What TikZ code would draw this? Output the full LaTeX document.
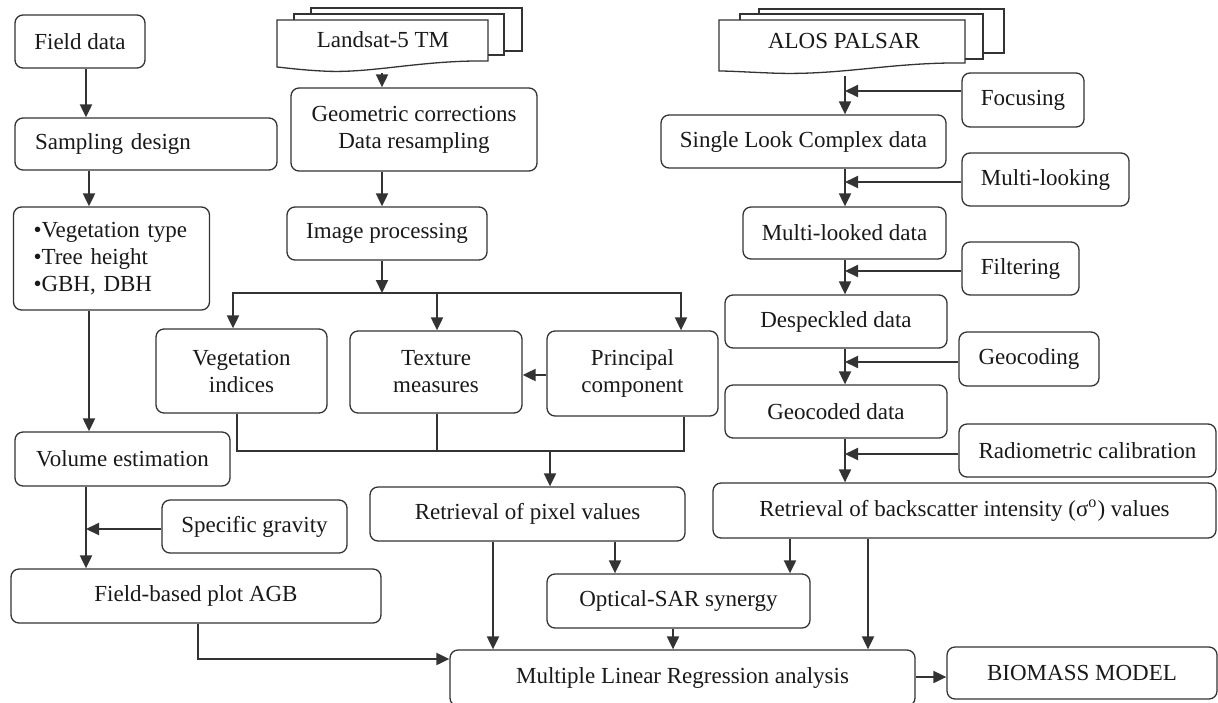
\documentclass[tikz,border=0pt]{standalone}
\usepackage{fontspec}
\setmainfont{Liberation Serif}
\usetikzlibrary{arrows.meta}
\begin{document}
\begin{tikzpicture}[x=0.5pt,y=-0.5pt,
    box/.style={draw=black!80,line width=0.65pt,rounded corners=4pt,inner sep=2pt,align=center,text=black!90,font=\fontsize{11.5}{13.5}\selectfont},
    arr/.style={draw=black!80,line width=1pt,-{Triangle[length=6.5pt,width=6pt]}},
    lin/.style={draw=black!80,line width=0.65pt}]
  \useasboundingbox (0,0) rectangle (1218,702);
  %campo
  \node[box,minimum width=65pt,minimum height=26.5pt] (field) at (80,41.5) {Field data};
  \node[box,minimum height=26pt,text width=111pt,inner xsep=10pt,align=left] (samp) at (146,144) {Sampling design};
  \node[box,minimum height=51.5pt,text width=78pt,inner xsep=10pt,align=left] (vegtype) at (111.5,258.5) {\textbullet Vegetation type\\\textbullet Tree height\\\textbullet GBH, DBH};
  \node[box,minimum width=107.5pt,minimum height=27pt] (volume) at (122.5,459) {Volume estimation};
  \node[box,minimum width=92.5pt,minimum height=26.5pt] (grav) at (254.5,526.5) {Specific gravity};
  \node[box,minimum width=185pt,minimum height=27pt] (agb) at (196,596) {Field-based plot AGB};
  %landsat
  \draw[lin] (311,14) -- (311,8) -- (522,8) -- (522,51) -- (504,51);
  \draw[lin] (294,20) -- (294,14) -- (504,14) -- (504,55) -- (488,55);
  \draw[lin] (277,20) -- (488,20) -- (488,61) .. controls (420,60) and (370,74) .. (322,71) .. controls (302,70) and (287,68) .. (277,67) -- cycle;
  \node[text=black!90,font=\fontsize{11.5}{13.5}\selectfont] (landsat) at (383,40) {Landsat-5 TM};
  \coordinate (landsatbot) at (382,73);
  \node[box,minimum width=123pt,minimum height=41.5pt] (geo) at (414,129.5) {Geometric corrections\\Data resampling};
  \node[box,minimum width=100pt,minimum height=26.5pt] (imgproc) at (387,233.5) {Image processing};
  \node[box,minimum width=85.5pt,minimum height=42pt] (vegind) at (241.5,371) {Vegetation\\indices};
  \node[box,minimum width=86pt,minimum height=41pt] (texture) at (436,372) {Texture\\measures};
  \node[box,minimum width=85.5pt,minimum height=42.5pt] (pca) at (632.5,373.5) {Principal\\component};
  \node[box,minimum width=157.5pt,minimum height=27pt] (pixel) at (527.5,514) {Retrieval of pixel values};
  %alos
  \draw[lin] (759,14) -- (759,9) -- (1004,9) -- (1004,53) -- (983,53);
  \draw[lin] (740,20) -- (740,14) -- (983,14) -- (983,59) -- (965,59);
  \draw[lin] (719,20) -- (965,20) -- (965,63) .. controls (890,62) and (840,76) .. (770,73) .. controls (745,72) and (730,71) .. (719,71) -- cycle;
  \node[text=black!90,font=\fontsize{11.5}{13.5}\selectfont] (alos) at (844,41) {ALOS PALSAR};
  \coordinate (alosbot) at (845,76);
  \node[box,minimum width=61pt,minimum height=27pt] (focus) at (1023,100) {Focusing};
  \node[box,minimum width=142.5pt,minimum height=26.5pt] (slc) at (803.5,141.5) {Single Look Complex data};
  \node[box,minimum width=83.5pt,minimum height=26.5pt] (mlook) at (1045.5,179.5) {Multi-looking};
  \node[box,minimum width=101.5pt,minimum height=26pt] (mlooked) at (844.5,233) {Multi-looked data};
  \node[box,minimum width=58.5pt,minimum height=26.5pt] (filter) at (1020.5,268.5) {Filtering};
  \node[box,minimum width=111pt,minimum height=26.5pt] (despeck) at (836,321.5) {Despeckled data};
  \node[box,minimum width=70pt,minimum height=27pt] (geocoding) at (1029,359) {Geocoding};
  \node[box,minimum width=111pt,minimum height=26.5pt] (geocoded) at (836,411.5) {Geocoded data};
  \node[box,minimum width=128.5pt,minimum height=26.5pt] (radio) at (1087.5,450.5) {Radiometric calibration};
  \node[box,minimum width=251.5pt,minimum height=27.5pt] (backsc) at (964.5,510.5) {Retrieval of backscatter intensity (σ\textsuperscript{o}) values};
  %modello
  \node[box,minimum width=131.5pt,minimum height=27pt] (optsar) at (678.5,601) {Optical-SAR synergy};
  \node[box,minimum width=232.5pt,minimum height=28pt] (mlr) at (682.5,678) {Multiple Linear Regression analysis};
  \node[box,minimum width=135pt,minimum height=26pt] (biomass) at (1082,673) {BIOMASS MODEL};
  %frecce campo
  \draw[arr] (field.south -| 86,0) -- (samp.north -| 86,0);
  \draw[arr] (samp.south -| 89,0) -- (vegtype.north -| 89,0);
  \draw[arr] (vegtype.south -| 89,0) -- (volume.north -| 89,0);
  \draw[arr] (volume.south -| 86,0) -- (agb.north -| 86,0);
  \coordinate (gravin) at (86,529);
  \draw[arr] (gravin -| grav.west) -- (gravin);
  \draw[arr] (agb.south -| 198,0) |- (mlr.west |- 0,659);
  %frecce landsat
  \coordinate (split) at (382,293);
  \draw[arr] (landsatbot) -- (landsatbot |- geo.north);
  \draw[arr] (geo.south -| landsatbot) -- (imgproc.north -| landsatbot);
  \draw[arr] (imgproc.south -| split) -- (split);
  \draw[arr] (split) -| (vegind.north -| 233,0);
  \draw[arr] (split) -| (pca.north -| 681,0);
  \draw[arr] (split -| 437,0) -- (texture.north -| 437,0);
  \draw[arr] (pca.west |- 0,375) -- (texture.east |- 0,375);
  \coordinate (merge) at (550,451);
  \draw[lin] (vegind.south -| 237,0) |- (merge) -| (pca.south -| 684,0);
  \draw[lin] (texture.south -| 437,0) -- (merge -| 437,0);
  \draw[arr] (merge) -- (merge |- pixel.north);
  \draw[arr] (pixel.south -| 493,0) -- (mlr.north -| 493,0);
  \draw[arr] (pixel.south -| 615,0) -- (optsar.north -| 615,0);
  %frecce alos
  \draw[arr] (alosbot) -- (alosbot |- slc.north);
  \draw[arr] (slc.south -| alosbot) -- (mlooked.north -| alosbot);
  \draw[arr] (mlooked.south -| alosbot) -- (despeck.north -| alosbot);
  \draw[arr] (despeck.south -| alosbot) -- (geocoded.north -| alosbot);
  \draw[arr] (geocoded.south -| alosbot) -- (backsc.north -| alosbot);
  \coordinate (focin) at (845,91);
  \coordinate (mlookin) at (845,182);
  \coordinate (filterin) at (845,271);
  \coordinate (geocin) at (845,362);
  \coordinate (radioin) at (845,454);
  \draw[arr] (focin -| focus.west) -- (focin);
  \draw[arr] (mlookin -| mlook.west) -- (mlookin);
  \draw[arr] (filterin -| filter.west) -- (filterin);
  \draw[arr] (geocin -| geocoding.west) -- (geocin);
  \draw[arr] (radioin -| radio.west) -- (radioin);
  \draw[arr] (backsc.south -| 790,0) -- (optsar.north -| 790,0);
  \draw[arr] (backsc.south -| 868,0) -- (mlr.north -| 868,0);
  %sinergia
  \draw[arr] (optsar.south -| 673,0) -- (mlr.north -| 673,0);
  \draw[arr] (mlr.east |- 0,677) -- (biomass.west |- 0,677);
\end{tikzpicture}
\end{document}
